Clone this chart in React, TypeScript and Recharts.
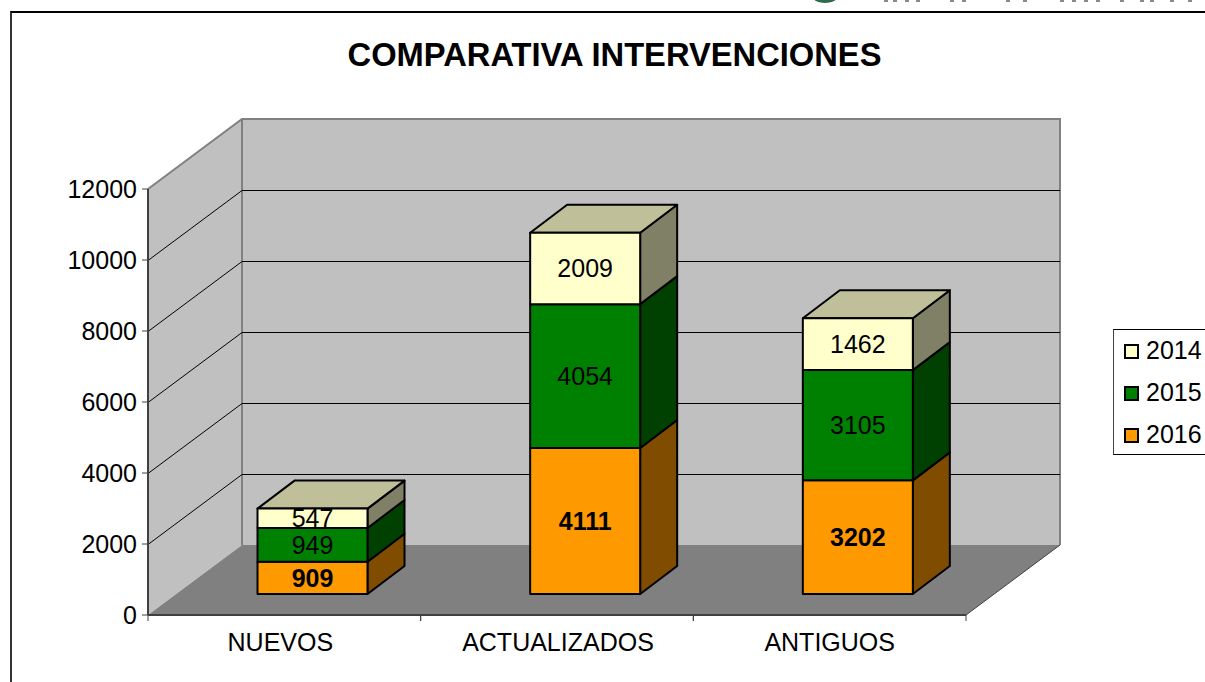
import { BarChart, Bar, XAxis, YAxis, CartesianGrid, Legend, LabelList } from "recharts"

const categories = ["NUEVOS", "ACTUALIZADOS", "ANTIGUOS"]
const values2014 = [547, 2009, 1462]
const values2015 = [949, 4054, 3105]
const values2016 = [909, 4111, 3202]
const yTicks = [0, 2000, 4000, 6000, 8000, 10000, 12000]

const data = categories.map((name, i) => ({
    name,
    y2014: values2014[i],
    y2015: values2015[i],
    y2016: values2016[i],
}))

const FONT = "'Liberation Sans', Arial, sans-serif"
const WIDTH = 1205
const HEIGHT = 682

// plot front plane
const LEFT = 148
const RIGHT = 966
const TOP = 189
const BOTTOM = 615

// depth of the box, and where the bars sit inside it
const DEPTH_X = 94
const DEPTH_Y = 70
const BAR_SHIFT_X = 28.5
const BAR_SHIFT_Y = 21
const BAR_DEPTH_X = 37
const BAR_DEPTH_Y = 28
const LEGEND_WIDTH = 92

const COLORS = {
    y2014: { front: "#FFFFCC", side: "#808066", top: "#BFBF99" },
    y2015: { front: "#008000", side: "#004000", top: "#006000" },
    y2016: { front: "#FF9900", side: "#804C00", top: "#BF7300" },
}

const tickNudge = [-4, 1, 0]

// cropped logo at the top edge of the picture
const logoBits = [884, 893, 905, 916, 950, 962, 1006, 1023, 1060, 1072, 1084, 1096, 1120, 1140, 1150, 1170, 1188]

// walls, floor and title sit behind the transparent chart
function Backdrop() {
    const bx = LEFT + DEPTH_X
    const bt = TOP - DEPTH_Y
    const bb = BOTTOM - DEPTH_Y
    const rx = RIGHT + DEPTH_X
    return (
        <svg width={WIDTH} height={HEIGHT} style={{ position: "absolute", left: 0, top: 0 }}>
            <ellipse cx={825} cy={-3} rx={12} ry={6} fill="#2F6B4F" />
            {logoBits.map((x) => (
                <rect key={x} x={x} y={0} width={4} height={2} fill="#8a8a8a" />
            ))}
            <polygon points={`${LEFT},${TOP} ${bx},${bt} ${bx},${bb} ${LEFT},${BOTTOM}`} fill="#C0C0C0" />
            <rect x={bx} y={bt} width={rx - bx} height={bb - bt} fill="#C0C0C0" />
            <polygon points={`${LEFT},${BOTTOM} ${bx},${bb} ${rx},${bb} ${RIGHT},${BOTTOM}`} fill="#808080" />
            <polyline
                points={`${LEFT},${TOP} ${bx},${bt} ${rx},${bt} ${rx},${bb}`}
                fill="none"
                stroke="#808080"
                strokeWidth={2}
            />
            <line x1={bx} y1={bt} x2={bx} y2={bb} stroke="#808080" strokeWidth={2} />
            <line x1={RIGHT} y1={BOTTOM} x2={rx} y2={bb} stroke="#404040" strokeWidth={1} />
            <text
                x={614.5}
                y={66}
                textAnchor="middle"
                fontFamily={FONT}
                fontWeight="bold"
                fontSize={32.7}
                fill="#000"
            >
                COMPARATIVA INTERVENCIONES
            </text>
        </svg>
    )
}

function gridLine(p: any) {
    const y = Math.round(p.y1) + 0.5
    if (y <= TOP + 1 || y >= BOTTOM - 1) return <g key={p.key} />
    return (
        <g key={p.key}>
            <line x1={p.x1} y1={y} x2={p.x1 + DEPTH_X} y2={y - DEPTH_Y} stroke="#000" strokeWidth={1} />
            <line x1={p.x1 + DEPTH_X} y1={y - DEPTH_Y} x2={p.x2 + DEPTH_X} y2={y - DEPTH_Y} stroke="#000" strokeWidth={1} />
        </g>
    )
}

function makeBox(colors: { front: string; side: string; top: string }, withTop: boolean) {
    return function Box(p: any) {
        const x = p.x + BAR_SHIFT_X
        const y = p.y - BAR_SHIFT_Y
        const w = p.width
        const h = p.height
        const r = x + w
        const b = y + h
        const line = { stroke: "#000", strokeWidth: 2, strokeLinejoin: "round" as const }
        return (
            <g>
                <polygon
                    points={`${r},${y} ${r + BAR_DEPTH_X},${y - BAR_DEPTH_Y} ${r + BAR_DEPTH_X},${b - BAR_DEPTH_Y} ${r},${b}`}
                    fill={colors.side}
                    {...line}
                />
                {withTop && (
                    <polygon
                        points={`${x},${y} ${x + BAR_DEPTH_X},${y - BAR_DEPTH_Y} ${r + BAR_DEPTH_X},${y - BAR_DEPTH_Y} ${r},${y}`}
                        fill={colors.top}
                        {...line}
                    />
                )}
                <rect x={x} y={y} width={w} height={h} fill={colors.front} {...line} />
            </g>
        )
    }
}

function makeLabel(bold: boolean) {
    return function BarLabel(p: any) {
        return (
            <text
                x={p.x + p.width / 2 + BAR_SHIFT_X}
                y={p.y + p.height / 2 - BAR_SHIFT_Y}
                textAnchor="middle"
                dominantBaseline="central"
                fontFamily={FONT}
                fontSize={25}
                fontWeight={bold ? "bold" : "normal"}
                fill="#000"
            >
                {p.value}
            </text>
        )
    }
}

function CategoryTick(p: any) {
    const half = (RIGHT - LEFT) / categories.length / 2
    return (
        <g>
            <line x1={p.x - half} y1={BOTTOM} x2={p.x - half} y2={BOTTOM + 6} stroke="#404040" strokeWidth={1} />
            <line x1={p.x + half} y1={BOTTOM} x2={p.x + half} y2={BOTTOM + 6} stroke="#404040" strokeWidth={1} />
            <text x={p.x + tickNudge[p.index]} y={651} textAnchor="middle" fontFamily={FONT} fontSize={25} fill="#000">
                {p.payload.value}
            </text>
        </g>
    )
}

function LegendBox({ payload }: any) {
    return (
        <div
            style={{
                width: LEGEND_WIDTH,
                height: 126,
                boxSizing: "border-box",
                background: "#fff",
                border: "1px solid #000",
                borderLeft: "1px solid #444",
                borderRight: "none",
                position: "relative",
                fontFamily: FONT,
                fontSize: 25,
                color: "#000",
            }}
        >
            {(payload ?? []).map((item: any, i: number) => (
                <div key={item.value} style={{ position: "absolute", left: 0, top: 8 + i * 42, height: 28 }}>
                    <span
                        style={{
                            position: "absolute",
                            left: 10,
                            top: 6,
                            width: 15,
                            height: 15,
                            boxSizing: "border-box",
                            background: item.color,
                            border: "2px solid #000",
                        }}
                    />
                    <span style={{ position: "absolute", left: 32, top: -2, lineHeight: "28px" }}>{item.value}</span>
                </div>
            ))}
        </div>
    )
}

export default function App() {
    return (
        <div style={{ position: "absolute", left: 0, top: 0, width: WIDTH, height: HEIGHT, overflow: "hidden", background: "#fff" }}>
            <div
                style={{
                    position: "absolute",
                    left: 10,
                    top: 11,
                    width: WIDTH,
                    height: HEIGHT,
                    borderLeft: "2px solid #333",
                    borderTop: "2px solid #000",
                }}
            />
            <Backdrop />
            <BarChart
                width={WIDTH}
                height={HEIGHT}
                data={data}
                margin={{ left: LEFT - 70, right: WIDTH - RIGHT - LEGEND_WIDTH, top: TOP, bottom: 27 }}
                style={{ position: "absolute", left: 0, top: 0 }}
            >
                <CartesianGrid vertical={false} horizontal={gridLine} />
                <XAxis
                    dataKey="name"
                    height={40}
                    interval={0}
                    tick={CategoryTick}
                    tickLine={false}
                    axisLine={{ stroke: "#404040", strokeWidth: 2 }}
                />
                <YAxis
                    width={70}
                    domain={[0, 12000]}
                    ticks={yTicks}
                    tickSize={6}
                    tickMargin={5}
                    tick={{ fontFamily: FONT, fontSize: 25, fill: "#000" }}
                    tickLine={{ stroke: "#404040" }}
                    axisLine={{ stroke: "#404040", strokeWidth: 2 }}
                />
                <Legend
                    content={LegendBox}
                    layout="vertical"
                    align="right"
                    verticalAlign="middle"
                    wrapperStyle={{ left: 1113, right: "auto", top: 329, width: LEGEND_WIDTH, bottom: "auto" }}
                />
                <Bar
                    dataKey="y2016"
                    name="2016"
                    stackId="a"
                    barSize={110}
                    fill={COLORS.y2016.front}
                    shape={makeBox(COLORS.y2016, false)}
                    isAnimationActive={false}
                >
                    <LabelList dataKey="y2016" content={makeLabel(true)} />
                </Bar>
                <Bar
                    dataKey="y2015"
                    name="2015"
                    stackId="a"
                    barSize={110}
                    fill={COLORS.y2015.front}
                    shape={makeBox(COLORS.y2015, false)}
                    isAnimationActive={false}
                >
                    <LabelList dataKey="y2015" content={makeLabel(false)} />
                </Bar>
                <Bar
                    dataKey="y2014"
                    name="2014"
                    stackId="a"
                    barSize={110}
                    fill={COLORS.y2014.front}
                    shape={makeBox(COLORS.y2014, true)}
                    isAnimationActive={false}
                >
                    <LabelList dataKey="y2014" content={makeLabel(false)} />
                </Bar>
            </BarChart>
        </div>
    )
}
